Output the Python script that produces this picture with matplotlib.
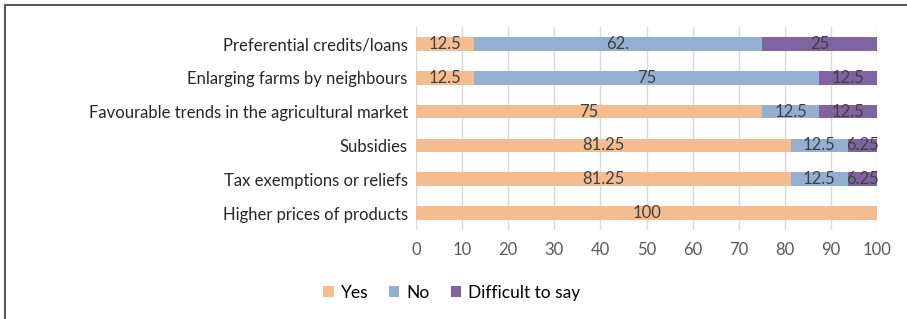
import numpy as np
import matplotlib.pyplot as plt
from matplotlib.lines import Line2D
from matplotlib.patches import Patch

plt.rcParams['font.family'] = ['Lato', 'DejaVu Sans']

categories = [
    'Preferential credits/loans',
    'Enlarging farms by neighbours',
    'Favourable trends in the agricultural market',
    'Subsidies',
    'Tax exemptions or reliefs',
    'Higher prices of products',
]
yes = [12.5, 12.5, 75, 81.25, 81.25, 100]
no = [62.5, 75, 12.5, 12.5, 12.5, 0]
difficult = [25, 12.5, 12.5, 6.25, 6.25, 0]
series_names = ['Yes', 'No', 'Difficult to say']
# labels as printed on the chart (the 62.5 one is cut off in the original)
yes_labels = ['12.5', '12.5', '75', '81.25', '81.25', '100']
no_labels = ['62.', '75', '12.5', '12.5', '12.5', '']
difficult_labels = ['25', '12.5', '12.5', '6.25', '6.25', '']
xticks = [0, 10, 20, 30, 40, 50, 60, 70, 80, 90, 100]

colors = ['#F5BD8F', '#93B0D4', '#8064A1']

fig = plt.figure(figsize=(9.07, 3.19), dpi=100)
ax = fig.add_axes([0.4587, 0.279, 0.5083, 0.6364])

y = np.arange(len(categories))
left = np.zeros(len(categories))
for vals, labs, name, col in zip([yes, no, difficult],
                                 [yes_labels, no_labels, difficult_labels],
                                 series_names, colors):
    bars = ax.barh(y, vals, left=left, height=0.4, color=col, label=name, zorder=2)
    ax.bar_label(bars, labels=labs, label_type='center', fontsize=12,
                 color='#404040', zorder=3)
    left = left + np.array(vals)

ax.set_xlim(0, 100)
ax.set_ylim(len(categories) - 0.5, -0.5)
ax.set_xticks(xticks)
ax.set_yticks(y)
ax.set_yticklabels(categories, fontsize=12, color='#262626')
ax.tick_params(axis='x', length=0, pad=9, labelsize=12, labelcolor='#595959')
ax.tick_params(axis='y', length=0, pad=6)
ax.grid(axis='x', color='#D9D9D9', linewidth=1, zorder=0)
for s in ax.spines.values():
    s.set_visible(False)

handles = [Patch(facecolor=c, edgecolor='none') for c in colors]
fig.legend(handles, series_names, loc='center', bbox_to_anchor=(0.498, 0.082),
           ncol=3, frameon=False, fontsize=12.5, handlelength=0.6, handleheight=0.6,
           handletextpad=0.4, columnspacing=1.2)

# partial frame (top and left) as in the original
fig.add_artist(Line2D([0.006, 1.0], [0.983, 0.983], color='#595959', linewidth=1.5))
fig.add_artist(Line2D([0.006, 0.006], [0.0, 0.983], color='#595959', linewidth=1.5))

fig.savefig('out.png', dpi=100)
